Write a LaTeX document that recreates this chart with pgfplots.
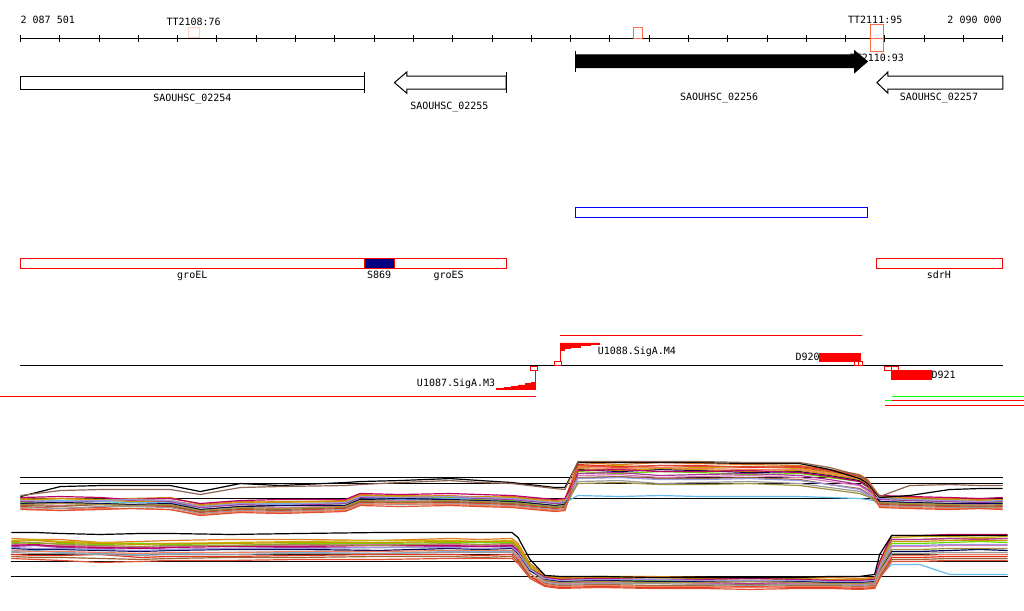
\documentclass[border=0pt]{standalone}
\usepackage{pgfplots}
\usepackage{pgfplotstable}
\pgfplotsset{compat=1.18}
\usepackage{fontspec}
\setmainfont{DejaVu Sans Mono}
\newcommand\lbl{\fontsize{10pt}{12pt}\selectfont}
\definecolor{c1}{HTML}{E07B20}
\definecolor{c2}{HTML}{C8B400}
\definecolor{c3}{HTML}{66DD00}
\definecolor{c4}{HTML}{DD77BB}
\definecolor{c5}{HTML}{66BBEE}
\definecolor{c6}{HTML}{E03020}
\definecolor{c7}{HTML}{AA3399}
\definecolor{c8}{HTML}{000055}
\definecolor{c9}{HTML}{996633}
\definecolor{c10}{HTML}{C89600}
\definecolor{c11}{HTML}{999999}
\definecolor{c12}{HTML}{BB0066}
\definecolor{c13}{HTML}{F08060}
\definecolor{c14}{HTML}{A09040}
\definecolor{c15}{HTML}{9999DD}
\definecolor{c16}{HTML}{E05030}
\definecolor{c17}{HTML}{000000}
\definecolor{c18}{HTML}{8B6550}
\definecolor{ttpale}{HTML}{FFD0C0}
\definecolor{ttor}{HTML}{FF6A4A}
\definecolor{navyb}{HTML}{000080}

\pgfplotstableread{
x s1 s2 s3 s4 s5 s6 s7 s8 s9 s10 s11 s12 s13 s14 s15 s16 s17 s18
20 499 501 503 505 502 507 502 504 506 500 508 498 509 505 501 510 497 496
60 501 499 504 506 501 509 503 503 507 499 509 497 511 504 502 511 487 491
100 500 500 504 505 502 508 501 504 505 500 507 498 509 505 501 510 486 490
130 499 501 503 505 503 506 501 505 506 502 507 500 509 506 500 509 486 490
170 498 502 502 506 503 507 502 504 506 501 508 499 510 505 501 510 486 490
200 505 507 510 511 508 513 508 510 512 506 514 504 515 511 507 516 492 495
240 502 505 507 507 505 510 505 507 509 503 511 501 512 508 504 513 484 488
280 503 504 506 508 504 511 506 506 510 502 512 500 513 509 505 514 486 487
345 501 503 504 507 504 509 504 506 508 502 510 500 511 507 503 512 483 486
360 495 497 500 501 498 503 498 500 502 496 504 494 505 501 497 506 482 485
400 497 497 499 501 500 502 498 499 503 496 505 495 504 502 498 507 481 483
450 496 498 498 502 499 503 497 500 502 497 504 494 505 501 497 506 479 481
480 498 500 500 503 499 504 499 501 503 497 505 495 506 502 498 507 481 483
512 497 499 501 503 500 505 500 502 504 498 506 496 507 503 499 508 483 484
555 501 503 506 507 504 509 504 506 508 502 510 500 511 507 503 512 488 489
565 500 502 504 506 503 508 503 505 507 501 509 499 510 506 502 511 488 490
578 463 467 472 476 496 465 474 470 478 469 482 471 468 484 479 466 463 462
620 465 466 474 475 497 467 473 472 477 471 481 470 469 483 478 468 463 462
660 463 469 472 478 496 466 476 470 479 469 484 472 468 485 480 466 463 462
700 464 468 473 477 497 466 475 471 479 470 483 472 469 485 480 467 463 462
750 465 467 475 476 497 468 474 473 478 472 482 471 470 484 479 467 464 463
800 466 469 474 478 497 467 476 472 480 471 484 473 470 486 481 468 464 463
830 470 473 478 482 498 471 480 476 485 475 488 477 474 490 485 472 470 468
860 475 478 482 486 499 476 485 481 489 480 492 482 479 494 490 477 479 476
868 480 483 488 492 500 481 490 486 494 485 496 487 484 497 495 482 484 482
880 497 499 502 503 502 505 500 502 504 498 506 496 507 503 499 508 498 497
910 498 500 503 504 501 506 501 503 505 499 507 497 508 504 500 509 496 486
950 499 501 502 505 502 507 502 504 506 500 508 498 509 505 501 510 490 485
980 500 502 502 505 503 506 503 504 507 501 508 499 509 506 502 509 489 486
1003 500 501 503 504 502 507 502 504 506 500 508 498 509 505 501 510 489 486
}\uppertab

\pgfplotstableread{
x t1 t2 t3 t4 t5 t6 t7 t8 t9 t10 t11 t12 t13 t14 t15 t16 t17
11 539 541 543 545 552 555 547 549 557 542 553 546 551 544 548 559 533
35 540 540 544 546 551 556 546 550 558 541 554 545 552 543 549 560 533
60 540 542 544 546 553 556 548 550 558 543 554 547 552 545 549 561 534
100 543 543 545 547 554 555 549 551 559 544 555 548 553 546 550 563 535
140 542 544 544 548 555 558 548 552 560 545 556 549 554 547 551 562 534
170 541 544 545 547 554 557 550 551 559 544 555 548 553 546 550 561 534
230 540 543 546 546 553 557 549 550 558 544 555 547 553 546 549 561 535
300 540 542 544 546 553 556 548 550 558 543 554 547 552 545 549 560 534
380 541 541 544 545 554 555 548 551 557 543 554 546 552 546 548 560 533
450 539 541 543 545 552 555 547 549 557 542 553 546 551 544 548 559 533
480 540 542 543 546 552 556 547 550 558 542 553 547 551 545 549 559 533
512 539 541 543 545 552 555 547 549 557 542 553 546 551 544 548 559 533
518 544 546 548 550 557 560 552 554 562 547 558 551 556 549 553 564 538
530 564 566 568 570 572 577 570 571 577 566 574 569 574 569 570 579 560
545 576 578 580 582 579 586 581 580 584 577 583 578 585 581 579 587 576
560 578 580 582 584 581 588 583 582 586 579 585 580 587 583 581 589 577
600 577 579 581 583 580 587 582 581 585 578 584 579 586 582 580 588 577
650 577 580 581 582 580 588 582 582 586 578 584 580 587 583 580 589 578
700 578 580 582 584 581 588 583 582 586 579 585 580 587 583 581 589 578
750 579 579 582 585 581 587 584 581 585 579 586 579 588 582 581 590 578
800 578 580 582 584 581 588 583 582 586 579 585 580 587 583 581 589 578
830 578 581 583 584 582 588 583 583 586 580 585 581 587 584 582 589 577
860 579 581 583 585 582 589 584 583 587 580 586 581 588 584 582 590 577
875 578 580 582 584 581 588 583 582 586 579 585 580 587 583 581 589 575
880 563 563 567 570 577 577 566 571 577 564 573 562 575 570 567 579 555
892 540 538 544 547 565 558 540 552 560 542 554 536 556 550 546 562 536
920 540 537 544 547 565 558 540 552 560 542 554 536 556 550 546 562 536
950 539 537 543 546 575 557 539 551 559 541 553 535 555 549 545 561 536
980 539 538 542 546 575 557 540 550 559 541 553 535 555 549 545 561 536
1008 539 537 543 546 575 557 539 551 559 541 553 535 555 549 545 561 536
}\lowertab

\begin{document}
\begin{tikzpicture}
\begin{axis}[scale only axis, width=1024pt, height=611pt,
  xmin=0, xmax=1024, ymin=0, ymax=611, y dir=reverse,
  axis lines=none, ticks=none, clip=false, unbounded coords=jump]

\addplot[draw=none, fill=white] coordinates {(0,0)(1024,0)(1024,611)(0,611)} -- cycle;

% ---- ruler
\addplot[black, line width=1pt] coordinates {(20,38.3)(1003.3,38.3)};
\addplot[black, line width=1pt] coordinates {
(20,35)(20,41.7)(nan,nan)(59.33,35)(59.33,41.7)(nan,nan)(98.67,35)(98.67,41.7)(nan,nan)
(138,35)(138,41.7)(nan,nan)(177.33,35)(177.33,41.7)(nan,nan)(216.67,35)(216.67,41.7)(nan,nan)
(256,35)(256,41.7)(nan,nan)(295.33,35)(295.33,41.7)(nan,nan)(334.67,35)(334.67,41.7)(nan,nan)
(374,35)(374,41.7)(nan,nan)(413.33,35)(413.33,41.7)(nan,nan)(452.67,35)(452.67,41.7)(nan,nan)
(492,35)(492,41.7)(nan,nan)(531.33,35)(531.33,41.7)(nan,nan)(570.67,35)(570.67,41.7)(nan,nan)
(610,35)(610,41.7)(nan,nan)(649.33,35)(649.33,41.7)(nan,nan)(688.67,35)(688.67,41.7)(nan,nan)
(728,35)(728,41.7)(nan,nan)(767.33,35)(767.33,41.7)(nan,nan)(806.67,35)(806.67,41.7)(nan,nan)
(846,35)(846,41.7)(nan,nan)(885.33,35)(885.33,41.7)(nan,nan)(924.67,35)(924.67,41.7)(nan,nan)
(964,35)(964,41.7)(nan,nan)(1003.33,35)(1003.33,41.7)};
\node[anchor=base west, inner sep=0pt, font=\lbl] at (axis cs:20,24) {2 087 501};
\node[anchor=base west, inner sep=0pt, font=\lbl] at (axis cs:166,25.5) {TT2108:76};
\node[anchor=base west, inner sep=0pt, font=\lbl] at (axis cs:848.3,23.3) {TT2111:95};
\node[anchor=base west, inner sep=0pt, font=\lbl] at (axis cs:947.7,24) {2 090 000};
\node[anchor=base west, inner sep=0pt, font=\lbl] at (axis cs:850,61.7) {TT2110:93};
\addplot[ttpale, line width=1pt] coordinates {(188,28)(198.7,28)(198.7,38)(188,38)} -- cycle;
\addplot[ttor, line width=1pt] coordinates {(634,27.3)(642.3,27.3)(642.3,38.3)(634,38.3)} -- cycle;

% ---- genes
\addplot[black, line width=1pt, fill=white] coordinates {(20,76.3)(364.3,76.3)(364.3,89.3)(20,89.3)} -- cycle;
\addplot[black, line width=1pt] coordinates {(364.3,72)(364.3,93.3)};
\addplot[black, line width=1pt, fill=white] coordinates {(394.3,82.7)(406.7,72)(406.7,76.3)(506,76.3)(506,89.3)(406.7,89.3)(406.7,93.3)} -- cycle;
\addplot[black, line width=1pt] coordinates {(506,72)(506,93.3)};
\addplot[black, line width=1pt, fill=black] coordinates {(575.7,55)(855,55)(855,51)(867.7,61.5)(855,72.5)(855,67.7)(575.7,67.7)} -- cycle;
\addplot[black, line width=1pt] coordinates {(575.7,51)(575.7,72)};
\addplot[black, line width=1pt, fill=white] coordinates {(877.3,82.7)(888.3,72)(888.3,76.3)(1003.3,76.3)(1003.3,89.3)(888.3,89.3)(888.3,93.3)} -- cycle;
\addplot[ttor, line width=1pt] coordinates {(871,25)(884.3,25)(884.3,51.7)(871,51.7)} -- cycle;
\addplot[ttor, line width=1pt] coordinates {(871,38.3)(884.3,38.3)};
\node[anchor=base west, inner sep=0pt, font=\lbl] at (axis cs:152.7,101.7) {SAOUHSC\_02254};
\node[anchor=base west, inner sep=0pt, font=\lbl] at (axis cs:410,110) {SAOUHSC\_02255};
\node[anchor=base west, inner sep=0pt, font=\lbl] at (axis cs:680,101) {SAOUHSC\_02256};
\node[anchor=base west, inner sep=0pt, font=\lbl] at (axis cs:900,101) {SAOUHSC\_02257};

% ---- blue box
\addplot[blue, line width=1pt] coordinates {(575.3,207.3)(867.7,207.3)(867.7,217.3)(575.3,217.3)} -- cycle;

% ---- red gene boxes
\addplot[red, line width=1pt, fill=white] coordinates {(20,258.3)(364.7,258.3)(364.7,268.3)(20,268.3)} -- cycle;
\addplot[red, line width=1pt, fill=navyb] coordinates {(364.7,258.3)(394,258.3)(394,268.3)(364.7,268.3)} -- cycle;
\addplot[red, line width=1pt, fill=white] coordinates {(394,258.3)(506.3,258.3)(506.3,268.3)(394,268.3)} -- cycle;
\addplot[red, line width=1pt, fill=white] coordinates {(877.3,258.3)(1003.3,258.3)(1003.3,268.3)(877.3,268.3)} -- cycle;
\node[anchor=base west, inner sep=0pt, font=\lbl] at (axis cs:176.7,279) {groEL};
\node[anchor=base west, inner sep=0pt, font=\lbl] at (axis cs:366.7,279) {S869};
\node[anchor=base west, inner sep=0pt, font=\lbl] at (axis cs:433.3,279) {groES};
\node[anchor=base west, inner sep=0pt, font=\lbl] at (axis cs:927,279) {sdrH};

% ---- promoters / terminators
\addplot[black, line width=1pt] coordinates {(20,366)(1003.3,366)};
\addplot[red, line width=1pt] coordinates {(560,336)(862.7,336)};
\addplot[red, line width=1pt] coordinates {(0,397.3)(535.7,397.3)};
\addplot[green, line width=1pt] coordinates {(892,397.3)(1024,397.3)};
\addplot[green, line width=1pt] coordinates {(885,401)(892,401)};
\addplot[red, line width=1pt] coordinates {(892,401)(1024,401)};
\addplot[red, line width=1pt] coordinates {(885,406.3)(1024,406.3)};
% U1087
\addplot[red, fill=red, line width=0.5pt] coordinates {(496,389.3)(535.7,389.3)(535.7,382.7)(531.7,382.7)(531.7,384)(525.7,384)(525.7,385.3)(518.3,385.3)(518.3,386.7)(511.7,386.7)(511.7,387.7)(504,387.7)(504,388.6)(496,388.6)} -- cycle;
\addplot[red, line width=1pt] coordinates {(535.7,368)(535.7,389.3)};
\addplot[red, line width=1pt, fill=white] coordinates {(531,366.7)(537.7,366.7)(537.7,370.7)(531,370.7)} -- cycle;
\node[anchor=base west, inner sep=0pt, font=\lbl] at (axis cs:416.7,386.7) {U1087.SigA.M3};
% U1088
\addplot[red, fill=red, line width=0.5pt] coordinates {(560.3,343.3)(599.3,343.3)(599.3,344.3)(590,344.3)(590,345.7)(580,345.7)(580,347.3)(570,347.3)(570,349)(564,349)(564,351)(560.3,351)} -- cycle;
\addplot[red, line width=1pt] coordinates {(560.3,343.3)(560.3,362.3)};
\addplot[red, line width=1pt, fill=white] coordinates {(554.3,362.3)(561.3,362.3)(561.3,366)(554.3,366)} -- cycle;
\node[anchor=base west, inner sep=0pt, font=\lbl] at (axis cs:597.7,355) {U1088.SigA.M4};
% D920
\addplot[red, fill=red, line width=0.5pt] coordinates {(820,353.3)(861,353.3)(861,361.7)(820,361.7)} -- cycle;
\addplot[red, line width=1pt, fill=white] coordinates {(855.3,362)(859,362)(859,366)(855.3,366)} -- cycle;
\addplot[red, line width=1pt, fill=white] coordinates {(859,362)(862.7,362)(862.7,366)(859,366)} -- cycle;
\node[anchor=base west, inner sep=0pt, font=\lbl] at (axis cs:795.7,360.7) {D920};
% D921
\addplot[red, fill=red, line width=0.5pt] coordinates {(892,371)(931.7,371)(931.7,380)(892,380)} -- cycle;
\addplot[red, line width=1pt, fill=white] coordinates {(885.3,366.7)(892,366.7)(892,370.7)(885.3,370.7)} -- cycle;
\addplot[red, line width=1pt, fill=white] coordinates {(892,366.7)(899,366.7)(899,370.7)(892,370.7)} -- cycle;
\node[anchor=base west, inner sep=0pt, font=\lbl] at (axis cs:931.7,379.3) {D921};

% ---- tiling reference lines
\addplot[black, line width=1pt] coordinates {(20,478.3)(1003.7,478.3)};
\addplot[black, line width=1pt] coordinates {(20,484.3)(1003.7,484.3)};
\addplot[black, line width=1pt] coordinates {(20,499.3)(1003.7,499.3)};
\addplot[black, line width=1pt] coordinates {(11,555.3)(1008.7,555.3)};
\addplot[black, line width=1pt] coordinates {(11,562.3)(1008.7,562.3)};
\addplot[black, line width=1pt] coordinates {(11,577.3)(1008.7,577.3)};

% ---- upper tiling series
\foreach \i in {1,...,18}{
  \edef\tmp{\noexpand\addplot[c\i, line width=1.2pt] table[x=x, y=s\i] {\noexpand\uppertab};}
  \tmp
}
% ---- lower tiling series
\foreach \i in {1,...,17}{
  \edef\tmp{\noexpand\addplot[c\i, line width=1.2pt] table[x=x, y=t\i] {\noexpand\lowertab};}
  \tmp
}
\end{axis}
\end{tikzpicture}
\end{document}
